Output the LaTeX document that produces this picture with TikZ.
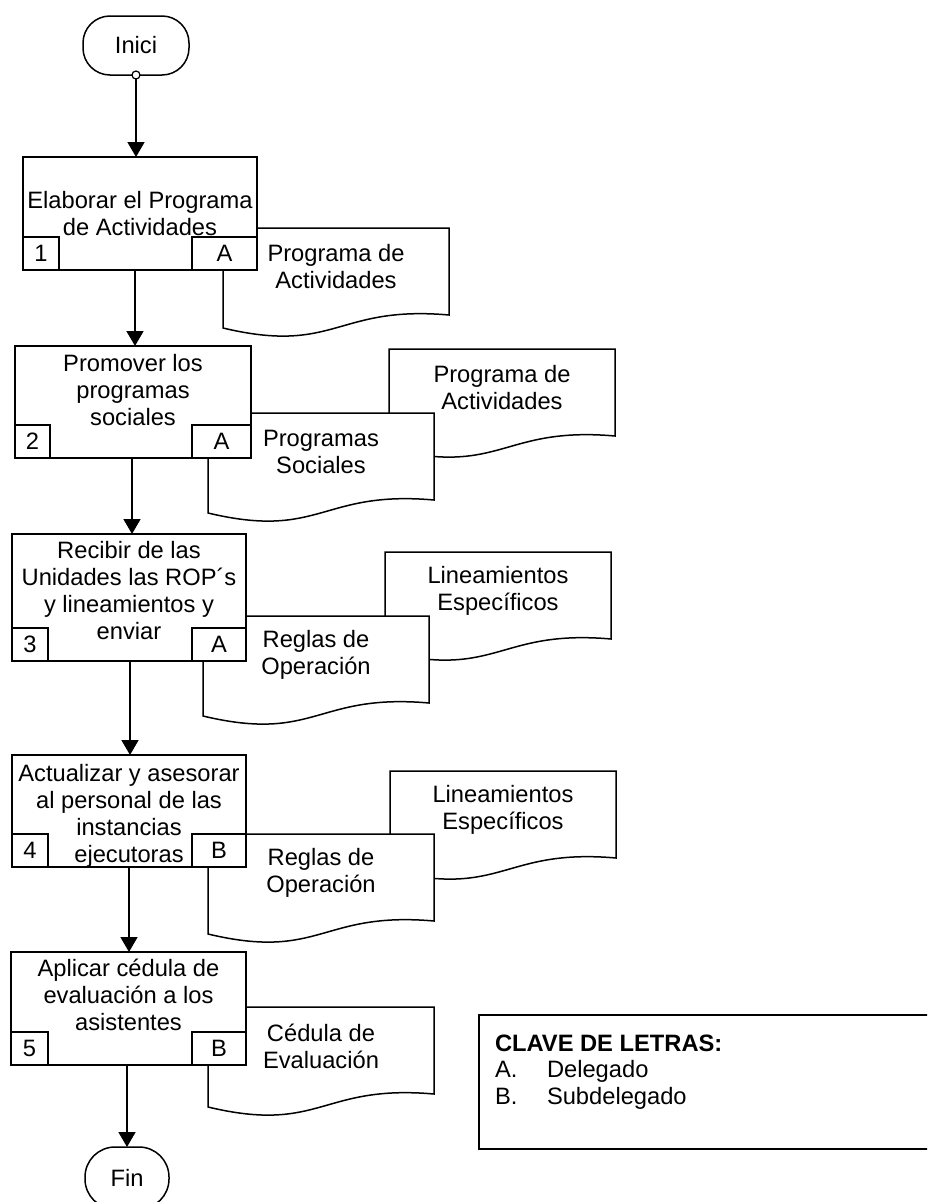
\documentclass[tikz,border=0pt]{standalone}
\usepackage{fontspec}
\setmainfont{Liberation Sans}
\usetikzlibrary{arrows.meta}
\newcommand\mydoc[4]{%
  \draw[shp] (#2,#3) -- ({#2+226},#3) -- ({#2+226},{#3+87})
    .. controls ({#2+113},{#3+77}) and ({#2+113},{#3+127}) .. (#2,{#3+100}) -- cycle;
  \node[align=center] (#1) at ({#2+113},{#3+39}) {#4};}
\begin{document}
\begin{tikzpicture}[x=1pt,y=-1pt,
  every node/.style={font=\fontsize{23.7}{27}\selectfont, inner sep=0pt, outer sep=0pt},
  shp/.style={draw, line width=1.5pt, fill=white},
  stepbox/.style={draw, line width=1.5pt, fill=white, rectangle},
  subbox/.style={draw, line width=1.5pt, rectangle, minimum height=33pt},
  term/.style={draw, line width=1.5pt, fill=white, rectangle, rounded corners=27pt},
  arr/.style={line width=1.6pt, -{Triangle[length=15pt,width=17pt]}},
  legtxt/.style={anchor=base west}
]
\clip (0,0) rectangle (927,1202);
\fill[white] (0,0) rectangle (927,1202);

% documents (back first, then front)
\mydoc{d1}{223}{228}{Programa de\\Actividades}
\mydoc{d2b}{389}{349}{Programa de\\Actividades}
\mydoc{d2f}{208}{413}{Programas\\Sociales}
\mydoc{d3b}{385}{552}{Lineamientos\\Específicos}
\mydoc{d3f}{203}{616}{Reglas de\\Operación}
\mydoc{d4b}{390}{771}{Lineamientos\\Específicos}
\mydoc{d4f}{208}{834}{Reglas de\\Operación}
\mydoc{d5}{208}{1007}{Cédula de\\Evaluación}

% terminators
\node[term, minimum width=106pt, minimum height=59pt] (ini) at (136,45.5) {Inici};
\node[circle, draw, fill=white, line width=1.2pt, minimum size=8pt] (ic) at (ini.south) {};
\node[term, minimum width=84pt, minimum height=62pt, rounded corners=30pt] (fin) at (127,1178) {Fin};

% process boxes
\node[stepbox, minimum width=234pt, minimum height=113pt] (b1) at (140,213.5) {};
\node[stepbox, minimum width=236pt, minimum height=112pt] (b2) at (133,402) {};
\node[stepbox, minimum width=234pt, minimum height=127pt] (b3) at (129,597.5) {};
\node[stepbox, minimum width=234pt, minimum height=112pt] (b4) at (129,811) {};
\node[stepbox, minimum width=235pt, minimum height=113pt] (b5) at (128.5,1008.5) {};

% sub boxes
\node[subbox, minimum width=36pt, anchor=south west] (b1n) at (b1.south west) {1};
\node[subbox, minimum width=65pt, anchor=south east] (b1r) at (b1.south east) {A};
\node[subbox, minimum width=35pt, anchor=south west] (b2n) at (b2.south west) {2};
\node[subbox, minimum width=59pt, anchor=south east] (b2r) at (b2.south east) {A};
\node[subbox, minimum width=36pt, anchor=south west] (b3n) at (b3.south west) {3};
\node[subbox, minimum width=54pt, anchor=south east] (b3r) at (b3.south east) {A};
\node[subbox, minimum width=36pt, anchor=south west] (b4n) at (b4.south west) {4};
\node[subbox, minimum width=54pt, anchor=south east] (b4r) at (b4.south east) {B};
\node[subbox, minimum width=37pt, anchor=south west] (b5n) at (b5.south west) {5};
\node[subbox, minimum width=54pt, anchor=south east] (b5r) at (b5.south east) {B};

% box texts
\node[align=center] (b1t) at (140,213.5) {Elaborar el Programa\\de Actividades};
\node[align=center] (b2t) at (133,390) {Promover los\\programas\\sociales};
\node[align=center] (b3t) at (129,591) {Recibir de las\\Unidades las ROP´s\\y lineamientos y\\enviar};
\node[align=center] (b4t) at (129,816) {Actualizar y asesorar\\al personal de las\\instancias\\ejecutoras};
\node[align=center] (b5t) at (128.5,995) {Aplicar cédula de\\evaluación a los\\asistentes};

% connectors
\coordinate (x12) at (135,0);
\coordinate (x23) at (132,0);
\coordinate (x34) at (130,0);
\coordinate (x45) at (129,0);
\coordinate (x5f) at (127,0);
\draw[arr] (ic.south) -- (ic.south |- b1.north);
\draw[arr] (b1.south -| x12) -- (b2.north -| x12);
\draw[arr] (b2.south -| x23) -- (b3.north -| x23);
\draw[arr] (b3.south -| x34) -- (b4.north -| x34);
\draw[arr] (b4.south -| x45) -- (b5.north -| x45);
\draw[arr] (b5.south -| x5f) -- (fin.north -| x5f);

% legend
\node[draw, line width=1.5pt, rectangle, minimum width=470pt, minimum height=134pt, anchor=north west] (leg) at (479,1015) {};
\node[legtxt, font=\fontsize{23.7}{27}\selectfont\bfseries] (lh) at (495,1051) {CLAVE DE LETRAS:};
\node[legtxt] (la) at (495,1077.5) {A.};
\node[legtxt] (lad) at (547,1077.5) {Delegado};
\node[legtxt] (lb) at (495,1104.5) {B.};
\node[legtxt] (lbd) at (547,1104.5) {Subdelegado};
\end{tikzpicture}
\end{document}
